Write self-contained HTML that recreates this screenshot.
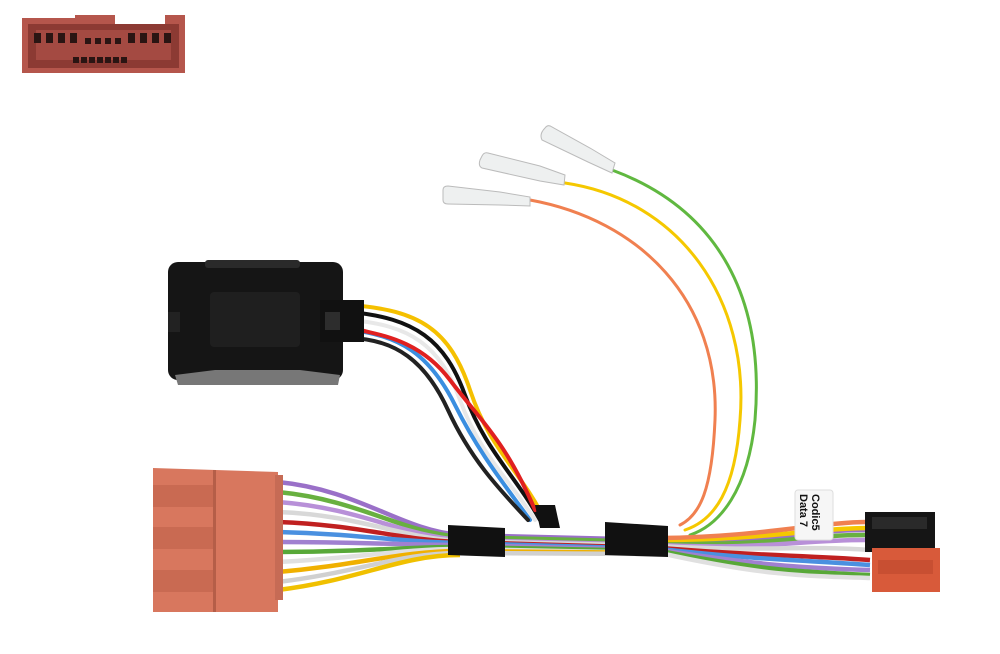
<!DOCTYPE html>
<html><head><style>body{margin:0;background:#fff}svg{display:block}</style></head><body>
<svg width="1000" height="654" viewBox="0 0 1000 654" xmlns="http://www.w3.org/2000/svg">
<rect width="1000" height="654" fill="#fff"/>
<!-- top-left connector -->
<path d="M22 18 L75 18 L75 15 L115 15 L115 24 L165 24 L165 15 L185 15 L185 73 L22 73 Z" fill="#b5564c"/>
<rect x="28" y="24" width="151" height="44" fill="#8c3a33"/>
<rect x="36" y="30" width="135" height="30" fill="#a44a42"/>
<g fill="#2a1513">
<rect x="34" y="33" width="7" height="10"/><rect x="46" y="33" width="7" height="10"/><rect x="58" y="33" width="7" height="10"/><rect x="70" y="33" width="7" height="10"/>
<rect x="85" y="38" width="6" height="6"/><rect x="95" y="38" width="6" height="6"/><rect x="105" y="38" width="6" height="6"/><rect x="115" y="38" width="6" height="6"/>
<rect x="128" y="33" width="7" height="10"/><rect x="140" y="33" width="7" height="10"/><rect x="152" y="33" width="7" height="10"/><rect x="164" y="33" width="7" height="10"/>
<rect x="73" y="57" width="6" height="6"/><rect x="81" y="57" width="6" height="6"/><rect x="89" y="57" width="6" height="6"/><rect x="97" y="57" width="6" height="6"/><rect x="105" y="57" width="6" height="6"/><rect x="113" y="57" width="6" height="6"/><rect x="121" y="57" width="6" height="6"/>
</g>
<!-- wires from box to junction -->
<g fill="none" stroke-width="4" stroke-linecap="round">
<path d="M350 305 C420 310,450 330,470 390 S520 470,545 520" stroke="#f5c000"/>
<path d="M350 312 C415 318,445 340,465 395 S515 475,540 520" stroke="#111"/>
<path d="M350 320 C410 325,440 345,460 400 S510 480,535 520" stroke="#e8e8e8"/>
<path d="M350 330 C400 335,430 355,455 405 S505 485,530 520" stroke="#3a8ee0"/>
<path d="M352 338 C395 340,425 360,448 410 S500 490,528 520" stroke="#222"/>
<path d="M360 330 C380 335,420 340,450 380 S505 440,535 510" stroke="#e02020"/>
<!-- pins wires -->
<path d="M530 200 C640 220,720 300,715 420 C712 490,700 515,680 525" stroke="#f08050" stroke-width="3"/>
<path d="M565 183 C680 200,750 300,740 420 C735 490,715 520,685 530" stroke="#f5c800" stroke-width="3"/>
<path d="M612 170 C720 210,765 300,755 420 C748 490,720 525,690 535" stroke="#60b840" stroke-width="3"/>
</g>
<!-- pin terminals -->
<g stroke="#bbb" fill="#eef0f0">
<path d="M443 190 Q443 186 448 186 L500 192 L530 197 L530 206 L500 205 L448 204 Q443 204 443 200 Z"/>
<path d="M482 156 Q484 152 488 153 L540 166 L565 175 L564 185 L540 181 L482 168 Q478 166 480 160 Z"/>
<path d="M545 128 Q548 124 552 127 L590 148 L615 163 L612 173 L588 162 L542 140 Q539 134 545 128 Z"/>
</g>
<!-- main harness -->
<g fill="none" stroke-width="4.5">
<path d="M278 482 C360 490,400 530,460 535 L660 540 C760 545,800 530,865 530" stroke="#9a70c8"/>
<path d="M278 492 C360 500,400 532,460 537 L660 542 C760 548,800 535,865 535" stroke="#68b040"/>
<path d="M278 502 C360 508,400 535,460 540 L660 545 C760 550,800 540,865 540" stroke="#b890d8"/>
<path d="M278 512 C360 515,400 538,460 541 L660 546 C760 552,800 545,870 550" stroke="#d8d8d8"/>
<path d="M278 522 C360 525,400 540,460 542 L660 548 C760 556,800 555,870 560" stroke="#c02020"/>
<path d="M278 532 C360 534,400 542,460 543 L660 549 C760 560,800 560,870 565" stroke="#4a90e0"/>
<path d="M278 542 C360 542,400 545,460 545 L660 550 C760 565,800 568,870 570" stroke="#a080d0"/>
<path d="M278 552 C360 552,400 547,460 547 L660 551 C760 570,800 572,870 575" stroke="#58a838"/>
<path d="M278 562 C360 558,400 549,460 549 L660 553 C760 575,800 576,870 578" stroke="#e0e0e0"/>
<path d="M278 572 C360 565,400 551,460 551 L660 553" stroke="#f0b000"/>
<path d="M278 582 C360 572,400 553,460 553 L660 554" stroke="#d0d0d0"/>
<path d="M278 590 C360 580,400 555,460 555" stroke="#f0c000"/>
<path d="M660 540 C760 540,820 528,868 528" stroke="#f5c800"/>
<path d="M660 538 C760 537,820 522,868 522" stroke="#f08050"/>
</g>
<!-- tape -->
<path d="M448 525 L505 528 L505 557 L448 555 Z" fill="#111"/>
<path d="M605 522 L668 526 L668 557 L605 555 Z" fill="#111"/>
<path d="M535 505 L555 505 L560 528 L540 528 Z" fill="#111"/>
<!-- black box -->
<rect x="168" y="262" width="175" height="118" rx="10" fill="#151515"/>
<rect x="205" y="260" width="95" height="8" rx="3" fill="#2a2a2a"/>
<rect x="210" y="292" width="90" height="55" rx="4" fill="#1f1f1f"/>
<path d="M175 375 L215 370 L300 370 L340 375 L338 385 L178 385 Z" fill="#777"/>
<rect x="168" y="312" width="12" height="20" fill="#222"/>
<rect x="320" y="300" width="44" height="42" fill="#111"/>
<rect x="325" y="312" width="15" height="18" fill="#2d2d2d"/>
<!-- salmon connector -->
<path d="M153 468 L278 472 L278 612 L153 612 Z" fill="#d8775e"/>
<rect x="153" y="485" width="60" height="22" fill="#c96a52"/>
<rect x="153" y="527" width="60" height="22" fill="#c96a52"/>
<rect x="153" y="570" width="60" height="22" fill="#c96a52"/>
<rect x="213" y="470" width="3" height="142" fill="#b55e48"/>
<rect x="275" y="475" width="8" height="125" fill="#c66b55"/>
<!-- label -->
<rect x="795" y="490" width="38" height="50" rx="3" fill="#f6f6f6" stroke="#ddd"/>
<text transform="translate(812,494) rotate(90)" font-family="Liberation Sans, sans-serif" font-size="11" font-weight="bold" fill="#111">Codic5</text>
<text transform="translate(800,494) rotate(90)" font-family="Liberation Sans, sans-serif" font-size="11" font-weight="bold" fill="#111">Data 7</text>
<!-- right connectors -->
<rect x="865" y="512" width="70" height="40" fill="#151515"/>
<rect x="872" y="517" width="55" height="12" fill="#2a2a2a"/>
<rect x="872" y="548" width="68" height="44" fill="#d85a3a"/>
<rect x="878" y="560" width="55" height="14" fill="#c84f32"/>
</svg>
</body></html>
